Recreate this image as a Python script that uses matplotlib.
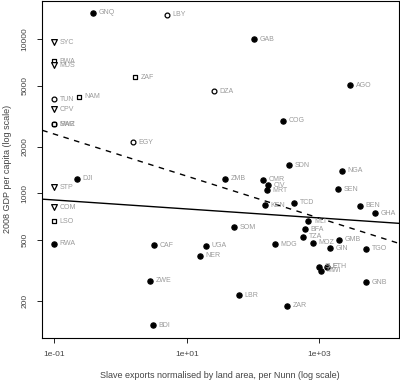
import numpy as np
import matplotlib
matplotlib.use("Agg")
import matplotlib.pyplot as plt

plt.rcParams['font.family'] = ['Liberation Sans', 'DejaVu Sans']

# Country codes, slave exports per area (0.1 = none), 2008 GDP per capita, region group
codes = ["GNQ", "LBY", "SYC", "BWA", "MUS", "ZAF", "NAM", "TUN", "CPV", "SWZ", "MAR",
         "DZA", "EGY", "DJI", "STP", "COM", "LSO", "RWA", "GAB", "AGO", "COG", "SDN",
         "NGA", "ZMB", "CMR", "CIV", "MRT", "SEN", "TCD", "KEN", "BEN", "GHA", "MLI",
         "SOM", "BFA", "TZA", "GMB", "UGA", "CAF", "MDG", "MOZ", "GIN", "TGO", "NER",
         "ZWE", "BDI", "SLE", "ETH", "MWI", "GNB", "LBR", "ZAR"]
exports = [0.388, 4.98, 0.1, 0.1, 0.1, 1.65, 0.233, 0.1, 0.1, 0.1, 0.1,
           25.8, 1.52, 0.222, 0.1, 0.1, 0.1, 0.1, 103, 2904, 280, 349,
           2223, 37.8, 143, 166, 161, 1936, 420, 150, 4112, 6855, 687,
           51, 615, 573, 1963, 19.5, 3.23, 217, 794, 1452, 5117, 16.0,
           2.81, 3.12, 979, 1294, 1061, 5070, 61.4, 329]
gdp = [14800, 14360, 9560, 7195, 6754, 5650, 4227, 4083, 3515, 2800, 2800,
       4604, 2149, 1243, 1094, 815, 661, 471, 9950, 5036, 2952, 1525,
       1400, 1243, 1225, 1132, 1046, 1066, 869, 840, 828, 742, 661,
       603, 585, 524, 501, 459, 462, 469, 479, 441, 438, 395,
       272, 140, 334, 334, 315, 266, 218, 187]
group = ["sub", "north", "island", "south", "island", "south", "south", "north", "island", "south", "north",
         "north", "north", "sub", "island", "island", "south", "sub", "sub", "sub", "sub", "sub",
         "sub", "sub", "sub", "sub", "sub", "sub", "sub", "sub", "sub", "sub", "sub",
         "sub", "sub", "sub", "sub", "sub", "sub", "sub", "sub", "sub", "sub", "sub",
         "sub", "sub", "sub", "sub", "sub", "sub", "sub", "sub"]

# fitted lines in log10-log10 space: intercept, slope
fit_all = (2.928, -0.0291)
fit_dash = (3.248, -0.1362)

yticks = [200, 500, 1000, 2000, 5000, 10000]
xticks = [0.1, 10, 1000]
xticklabels = ["1e-01", "1e+01", "1e+03"]

styles = {
    "sub": dict(marker="o", facecolor="black", edgecolor="black", s=14),
    "north": dict(marker="o", facecolor="white", edgecolor="black", s=12),
    "south": dict(marker="s", facecolor="white", edgecolor="black", s=11),
    "island": dict(marker="v", facecolor="white", edgecolor="black", s=17),
}

fig = plt.figure(figsize=(4.0, 3.82), dpi=100)
ax = fig.add_axes([0.104, 0.115, 0.8935, 0.8835])
ax.set_xscale("log")
ax.set_yscale("log")

x = np.array(exports)
y = np.array(gdp)
g = np.array(group)
for k, st in styles.items():
    m = g == k
    ax.scatter(x[m], y[m], linewidths=0.9, zorder=3, **st)

for c, xi, yi in zip(codes, exports, gdp):
    ax.annotate(c, (xi, yi), xytext=(4, 0), textcoords="offset points",
                fontsize=5, color="#9a9a9a", va="center", ha="left")

xs = np.logspace(-1.5, 4.5, 50)
lx = np.log10(xs)
ax.plot(xs, 10 ** (fit_all[0] + fit_all[1] * lx), color="black", lw=1.0)
ax.plot(xs, 10 ** (fit_dash[0] + fit_dash[1] * lx), color="black", lw=1.0,
        linestyle=(0, (4, 4)))

ax.set_xlim(10 ** -1.19, 10 ** 4.203)
ax.set_ylim(10 ** 2.062, 10 ** 4.2495)

ax.set_xticks(xticks)
ax.set_xticklabels(xticklabels)
ax.set_yticks(yticks)
ax.set_yticklabels([str(v) for v in yticks], rotation=90, va="center")
ax.minorticks_off()
ax.tick_params(direction="out", length=3.6, width=0.6, labelsize=6,
               labelcolor="#444444", pad=6)
for s in ax.spines.values():
    s.set_linewidth(0.8)

ax.set_xlabel("Slave exports normalised by land area, per Nunn (log scale)",
              fontsize=6.5, color="#444444", labelpad=9)
ax.set_ylabel("2008 GDP per capita (log scale)", fontsize=6.5, color="#444444",
              labelpad=7)

fig.savefig("out.png", dpi=100)
